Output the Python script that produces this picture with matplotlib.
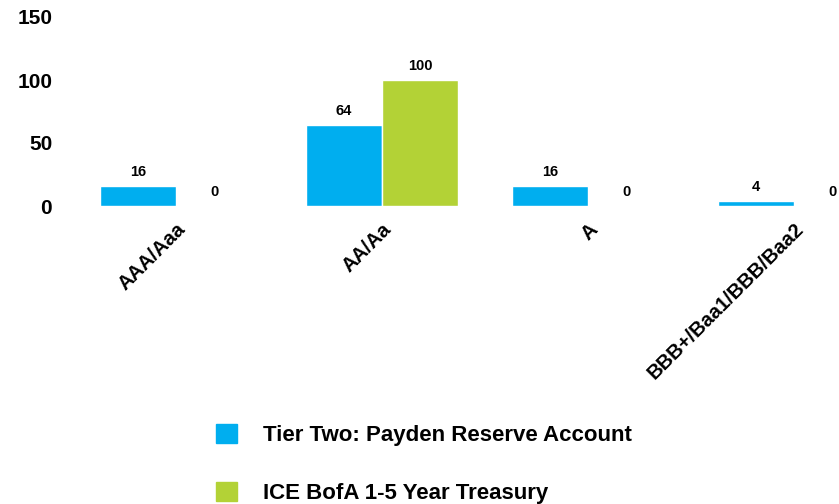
from matplotlib import pyplot as plt
from matplotlib.patches import Patch
import numpy as np

# chart data
categories = ['AAA/Aaa', 'AA/Aa', 'A', 'BBB+/Baa1/BBB/Baa2']
payden = [16, 64, 16, 4]
ice_bofa = [0, 100, 0, 0]
series_names = ['Tier Two: Payden Reserve Account', 'ICE BofA 1-5 Year Treasury']

blue = '#00AEEF'
green = '#B3D236'

plt.rcParams['font.family'] = ['Liberation Sans', 'DejaVu Sans']
plt.rcParams['font.weight'] = 'bold'

fig = plt.figure(figsize=(8.39, 5.04), dpi=100)
ax = fig.add_axes([73 / 839, (504 - 206) / 504, (839 - 73) / 839, 189 / 504])

x = np.arange(len(categories))
width = 0.37
b1 = ax.bar(x - width / 2, payden, width, color=blue, edgecolor='white', linewidth=1)
b2 = ax.bar(x + width / 2, ice_bofa, width, color=green, edgecolor='white', linewidth=1)

# value labels above each bar
for bars in (b1, b2):
    for rect in bars:
        h = rect.get_height()
        ax.annotate(str(int(h)), (rect.get_x() + rect.get_width() / 2, h),
                    xytext=(0, 5), textcoords='offset points',
                    ha='center', va='bottom', fontsize=10.5, fontweight='bold')

ax.set_xlim(-0.5, (839 - 176) / 206)
ax.set_ylim(0, 150)
ax.set_yticks([0, 50, 100, 150])
ax.set_xticks(x)
ax.set_xticklabels(categories, rotation=45, ha='right', rotation_mode='anchor',
                   fontsize=14.5, fontweight='bold')
ax.tick_params(axis='y', length=0, labelsize=15, pad=15)
ax.tick_params(axis='x', length=0, pad=10)
for lbl in ax.get_yticklabels():
    lbl.set_fontweight('bold')
for s in ax.spines.values():
    s.set_visible(False)

handles = [Patch(color=blue), Patch(color=green)]
fig.legend(handles, series_names, loc='upper left', bbox_to_anchor=(196 / 839, 1 - 404 / 504),
           frameon=False, handlelength=0.95, handleheight=0.95, handletextpad=1.15,
           labelspacing=1.6, prop={'size': 16, 'weight': 'bold'})

plt.savefig('out.png', dpi=100)
